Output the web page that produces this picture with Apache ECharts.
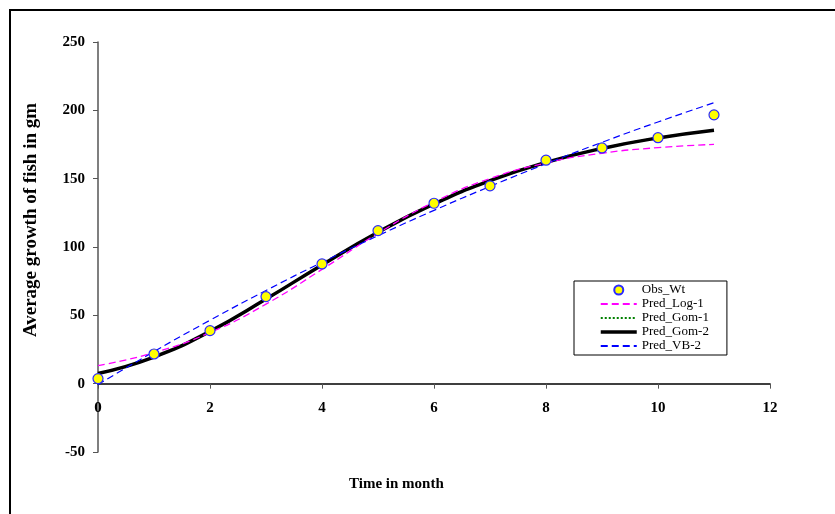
<!DOCTYPE html>
<html>
<head>
<meta charset="utf-8">
<script src="https://cdn.jsdelivr.net/npm/echarts@6/dist/echarts.min.js"></script>
<style>
html,body{margin:0;padding:0;background:#fff;}
#chart{width:835px;height:514px;}
</style>
</head>
<body>
<div id="chart"></div>
<script>
// Data
var months = [0, 1, 2, 3, 4, 5, 6, 7, 8, 9, 10, 11];
var obsWt   = [3.7, 21.7, 38.8, 63.7, 87.6, 112.0, 132.0, 144.7, 163.5, 172.5, 180.0, 196.7];
var predLog1 = [13.2, 22.7, 37.4, 58.2, 83.6, 110.0, 132.9, 150.1, 161.5, 168.6, 172.7, 175.1];
var predGom1 = [7.5, 19.5, 38.3, 61.9, 86.9, 110.8, 131.5, 148.5, 161.9, 172.1, 179.8, 185.5];
var predGom2 = [7.5, 19.5, 38.3, 61.9, 86.9, 110.8, 131.5, 148.5, 161.9, 172.1, 179.8, 185.5];
var predVB2  = [-0.7, 23.5, 46.4, 68.2, 88.8, 108.3, 126.8, 144.3, 160.9, 176.6, 191.5, 205.6];
var xTicks = { min: 0, max: 12, interval: 2 };
var yTicks = { min: -50, max: 250, interval: 50 };
var seriesNames = ['Obs_Wt', 'Pred_Log-1', 'Pred_Gom-1', 'Pred_Gom-2', 'Pred_VB-2'];
var xTitle = 'Time in month';
var yTitle = 'Average growth of fish in gm';

function pairs(xs, ys) { return xs.map(function (x, i) { return [x, ys[i]]; }); }

var FONT = '"Liberation Serif", "Times New Roman", serif';
var chart = echarts.init(document.getElementById('chart'), null, { renderer: 'canvas' });

var gridTop = 42, gridBottom = 62, H = 514;
var plotH = H - gridTop - gridBottom;
// distance from the bottom of the plot (y = min) to y = 0
var zeroOffset = -plotH * (0 - yTicks.min) / (yTicks.max - yTicks.min);

var legendLineWidths = [null, 2, 2, 3.5, 2];
var legendData = seriesNames.map(function (n, i) {
  return i === 0 ? { name: n } : { name: n, itemStyle: { opacity: 0 }, lineStyle: { width: legendLineWidths[i] } };
});

var option = {
  backgroundColor: '#ffffff',
  animation: false,
  grid: { left: 98, right: 65, top: gridTop, bottom: gridBottom },
  xAxis: {
    type: 'value',
    min: xTicks.min, max: xTicks.max, interval: xTicks.interval,
    offset: zeroOffset,
    axisLine: { show: true, onZero: false, lineStyle: { color: '#000', width: 1.5 } },
    axisTick: { show: true, inside: false, length: 5, lineStyle: { color: '#555' } },
    axisLabel: { margin: 17, color: '#000', fontFamily: FONT, fontWeight: 'bold', fontSize: 15 },
    splitLine: { show: false }
  },
  yAxis: {
    type: 'value',
    min: yTicks.min, max: yTicks.max, interval: yTicks.interval,
    axisLine: { show: true, lineStyle: { color: '#555', width: 1.5 } },
    axisTick: { show: true, inside: false, length: 5, lineStyle: { color: '#555' } },
    axisLabel: { margin: 13, color: '#000', fontFamily: FONT, fontWeight: 'bold', fontSize: 15 },
    splitLine: { show: false }
  },
  legend: {
    orient: 'vertical',
    left: 574, top: 281,
    data: legendData,
    backgroundColor: '#fff',
    borderColor: '#000', borderWidth: 1,
    padding: [2, 18, 2, 25],
    itemWidth: 36, itemHeight: 9, itemGap: 0,
    textStyle: { fontFamily: FONT, fontSize: 13, color: '#000', lineHeight: 14 }
  },
  graphic: [
    { type: 'rect', shape: { x: 10, y: 10, width: 860, height: 540 }, style: { fill: null, stroke: '#000', lineWidth: 2 }, silent: true },
    { type: 'text', left: 349, top: 477, style: { text: xTitle, font: 'bold 15px ' + FONT, fill: '#000' } },
    { type: 'text', x: 31, y: 220, rotation: Math.PI / 2, style: { text: yTitle, font: 'bold 19px ' + FONT, fill: '#000', align: 'center', verticalAlign: 'middle' } }
  ],
  series: [
    {
      name: seriesNames[0], type: 'scatter', z: 6,
      data: pairs(months, obsWt),
      symbol: 'circle', symbolSize: 10,
      itemStyle: { color: '#ffff00', borderColor: '#2a2aff', borderWidth: 1.2, opacity: 1 }
    },
    {
      name: seriesNames[1], type: 'line', z: 4, smooth: true, symbol: 'none',
      data: pairs(months, predLog1),
      lineStyle: { color: '#ff00ff', width: 1.3, type: [7, 4] },
      itemStyle: { color: '#ff00ff' }
    },
    {
      name: seriesNames[2], type: 'line', z: 2, smooth: true, symbol: 'none',
      data: pairs(months, predGom1),
      lineStyle: { color: '#008000', width: 2, type: [2, 2] },
      itemStyle: { color: '#008000' }
    },
    {
      name: seriesNames[3], type: 'line', z: 3, smooth: true, symbol: 'none',
      data: pairs(months, predGom2),
      lineStyle: { color: '#000', width: 3.5 },
      itemStyle: { color: '#000' }
    },
    {
      name: seriesNames[4], type: 'line', z: 4, smooth: true, symbol: 'none',
      data: pairs(months, predVB2),
      lineStyle: { color: '#0000ff', width: 1.2, type: [7, 4] },
      itemStyle: { color: '#0000ff' }
    }
  ]
};
chart.setOption(option);
</script>
</body>
</html>
